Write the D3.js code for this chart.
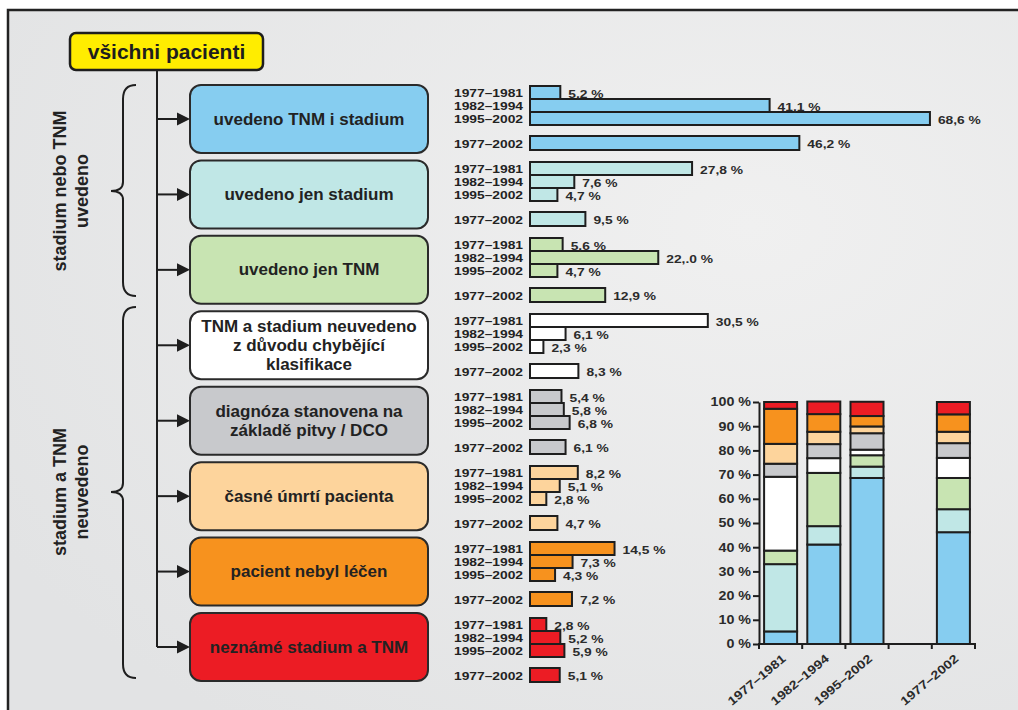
<!DOCTYPE html>
<html>
<head>
<meta charset="utf-8">
<script src="https://cdn.jsdelivr.net/npm/d3@7/dist/d3.min.js"></script>
<style>
  html, body { margin: 0; padding: 0; background: #fff; }
  svg { display: block; font-family: "Liberation Sans", Arial, sans-serif; }
</style>
</head>
<body>
<svg id="chart" width="1018" height="710"></svg>
<script>
// Categories of staging information (box text, one entry per line)
const categories = [
  ["uvedeno TNM i stadium"],
  ["uvedeno jen stadium"],
  ["uvedeno jen TNM"],
  ["TNM a stadium neuvedeno", "z důvodu chybějící", "klasifikace"],
  ["diagnóza stanovena na", "základě pitvy / DCO"],
  ["časné úmrtí pacienta"],
  ["pacient nebyl léčen"],
  ["neznámé stadium a TNM"]
];
const colors = ["#86cdf0", "#c0e7e6", "#c8e4b2", "#ffffff", "#c8c9cc", "#fdd49c", "#f7921e", "#ec1c24"];

const periods = ["1977–1981", "1982–1994", "1995–2002"];
const overallPeriod = "1977–2002";

// Share of patients (%) per category
const share1977_1981 = [5.2, 27.8, 5.6, 30.5, 5.4, 8.2, 14.5, 2.8];
const share1982_1994 = [41.1, 7.6, 22.0, 6.1, 5.8, 5.1, 7.3, 5.2];
const share1995_2002 = [68.6, 4.7, 4.7, 2.3, 6.8, 2.8, 4.3, 5.9];
const share1977_2002 = [46.2, 9.5, 12.9, 8.3, 6.1, 4.7, 7.2, 5.1];

// Value labels as printed
const labels1977_1981 = ["5,2 %", "27,8 %", "5,6 %", "30,5 %", "5,4 %", "8,2 %", "14,5 %", "2,8 %"];
const labels1982_1994 = ["41,1 %", "7,6 %", "22,.0 %", "6,1 %", "5,8 %", "5,1 %", "7,3 %", "5,2 %"];
const labels1995_2002 = ["68,6 %", "4,7 %", "4,7 %", "2,3 %", "6,8 %", "2,8 %", "4,3 %", "5,9 %"];
const labels1977_2002 = ["46,2 %", "9,5 %", "12,9 %", "8,3 %", "6,1 %", "4,7 %", "7,2 %", "5,1 %"];

const yTicks = [0, 10, 20, 30, 40, 50, 60, 70, 80, 90, 100];
const groupTitles = [["stadium nebo TNM", "uvedeno"], ["stadium a TNM", "neuvedeno"]];
const rootTitle = "všichni pacienti";

const svg = d3.select("#chart");
const ink = "#1e1e1e";
const smallFont = 11.6;     // small bold labels
const wide = 1.19;          // horizontal stretch of the small labels

// ---------- panel background ----------
const defs = svg.append("defs");
const grad = defs.append("radialGradient").attr("id", "bg")
  .attr("cx", "72%").attr("cy", "30%").attr("r", "85%");
grad.append("stop").attr("offset", "0%").attr("stop-color", "#f0f0f0");
grad.append("stop").attr("offset", "100%").attr("stop-color", "#e2e3e4");

svg.append("rect").attr("x", 0).attr("y", 0).attr("width", 1018).attr("height", 710).attr("fill", "#fff");
svg.append("rect").attr("x", 8).attr("y", 10).attr("width", 1030).attr("height", 720)
  .attr("fill", "url(#bg)").attr("stroke", "#222").attr("stroke-width", 2.5);

// ---------- flow diagram ----------
const boxTop = d3.scaleLinear().domain([0, 7]).range([85, 613]);
const boxX = 190, boxW = 238, boxH = 68;
const trunkX = 157;

// root box
svg.append("rect").attr("x", 70).attr("y", 33).attr("width", 193).attr("height", 37)
  .attr("rx", 6).attr("fill", "#ffed00").attr("stroke", ink).attr("stroke-width", 2.5);
svg.append("text").attr("x", 166.5).attr("y", 51).attr("text-anchor", "middle")
  .attr("dominant-baseline", "central").attr("font-size", 21).attr("font-weight", "bold")
  .attr("fill", ink).text(rootTitle);

// trunk
svg.append("line").attr("x1", trunkX).attr("x2", trunkX).attr("y1", 70)
  .attr("y2", boxTop(7) + boxH / 2).attr("stroke", ink).attr("stroke-width", 2);

const boxes = svg.append("g").selectAll("g").data(categories).join("g");
boxes.append("line")
  .attr("x1", trunkX).attr("x2", boxX - 10)
  .attr("y1", (d, i) => boxTop(i) + boxH / 2).attr("y2", (d, i) => boxTop(i) + boxH / 2)
  .attr("stroke", ink).attr("stroke-width", 2);
boxes.append("path")
  .attr("d", (d, i) => {
    const cy = boxTop(i) + boxH / 2;
    return `M${boxX - 13},${cy - 6.5} L${boxX},${cy} L${boxX - 13},${cy + 6.5} Z`;
  })
  .attr("fill", ink);
boxes.append("rect")
  .attr("x", boxX).attr("y", (d, i) => boxTop(i)).attr("width", boxW).attr("height", boxH)
  .attr("rx", 11).attr("fill", (d, i) => colors[i]).attr("stroke", "#2a2a2a").attr("stroke-width", 2);
boxes.append("text")
  .attr("text-anchor", "middle").attr("font-size", 17).attr("font-weight", "bold").attr("fill", "#222")
  .each(function (lines, i) {
    const cy = boxTop(i) + boxH / 2;
    const lh = 19;
    d3.select(this).selectAll("tspan").data(lines).join("tspan")
      .attr("x", boxX + boxW / 2)
      .attr("y", (l, j) => cy + (j - (lines.length - 1) / 2) * lh)
      .attr("dominant-baseline", "central")
      .text(l => l);
  });

// braces with group titles
function bracePath(y0, y1, ym) {
  const xe = 136, xl = 123, xt = 111, r = 14;
  return `M${xe},${y0} Q${xl},${y0} ${xl},${y0 + r} L${xl},${ym - 9} Q${xl},${ym} ${xt},${ym}` +
         ` Q${xl},${ym} ${xl},${ym + 9} L${xl},${y1 - r} Q${xl},${y1} ${xe},${y1}`;
}
const braces = [
  { y0: 85, y1: 296, ym: 191 },
  { y0: 307, y1: 678, ym: 492 }
];
braces.forEach((b, k) => {
  svg.append("path").attr("d", bracePath(b.y0, b.y1, b.ym))
    .attr("fill", "none").attr("stroke", ink).attr("stroke-width", 2);
  const t = svg.append("text").attr("transform", `translate(71,${b.ym}) rotate(-90)`)
    .attr("text-anchor", "middle").attr("font-size", 18).attr("font-weight", "bold").attr("fill", "#222");
  groupTitles[k].forEach((line, j) => {
    t.append("tspan").attr("x", 0).attr("y", (j - 0.5) * 22).attr("dominant-baseline", "central").text(line);
  });
});

// ---------- horizontal bars per category ----------
const x = d3.scaleLinear().domain([0, 100]).range([530, 530 + 583]);
const groupTop = d3.scaleLinear().domain([0, 7]).range([86, 618]);
const rowDefs = [
  { period: periods[0], values: share1977_1981, labels: labels1977_1981, dy: 0, h: 13 },
  { period: periods[1], values: share1982_1994, labels: labels1982_1994, dy: 13, h: 13 },
  { period: periods[2], values: share1995_2002, labels: labels1995_2002, dy: 26, h: 13 },
  { period: overallPeriod, values: share1977_2002, labels: labels1977_2002, dy: 50, h: 14 }
];
const barRows = [];
categories.forEach((c, i) => {
  rowDefs.forEach(r => barRows.push({ cat: i, period: r.period, value: r.values[i], label: r.labels[i], y: groupTop(i) + r.dy, h: r.h }));
});
const barG = svg.append("g");
barG.selectAll("rect").data(barRows).join("rect")
  .attr("x", x(0)).attr("y", d => d.y)
  .attr("width", d => x(d.value) - x(0)).attr("height", d => d.h)
  .attr("fill", d => colors[d.cat]).attr("stroke", ink).attr("stroke-width", 2);
barG.selectAll("text.period").data(barRows).join("text").attr("class", "period")
  .attr("transform", d => `translate(523,${d.y + d.h / 2 + 0.5}) scale(${wide},1)`)
  .attr("text-anchor", "end").attr("dominant-baseline", "central")
  .attr("font-size", smallFont).attr("font-weight", "bold").attr("fill", "#222").text(d => d.period);
barG.selectAll("text.value").data(barRows).join("text").attr("class", "value")
  .attr("transform", d => `translate(${x(d.value) + 8},${d.y + d.h / 2 + 1}) scale(${wide},1)`)
  .attr("dominant-baseline", "central")
  .attr("font-size", smallFont).attr("font-weight", "bold").attr("fill", "#2b2b2b").text(d => d.label);

// ---------- stacked 100 % columns ----------
const stackCols = [periods[0], periods[1], periods[2], " ", overallPeriod];
const colShares = {
  [periods[0]]: share1977_1981,
  [periods[1]]: share1982_1994,
  [periods[2]]: share1995_2002,
  [overallPeriod]: share1977_2002
};
const xs = d3.scaleBand().domain(stackCols).range([759, 975]).paddingInner(0.236).paddingOuter(0.118);
const ys = d3.scaleLinear().domain([0, 100]).range([644, 402]);

const stackData = Object.keys(colShares).map(k => {
  const o = { col: k };
  colShares[k].forEach((v, i) => { o["c" + i] = v; });
  return o;
});
const series = d3.stack().keys(categories.map((c, i) => "c" + i))(stackData);

const stackG = svg.append("g");
stackG.selectAll("g").data(series).join("g")
  .attr("fill", (s, i) => colors[i])
  .selectAll("rect").data(s => s).join("rect")
  .attr("x", d => xs(d.data.col)).attr("width", xs.bandwidth())
  .attr("y", d => ys(d[1])).attr("height", d => ys(d[0]) - ys(d[1]))
  .attr("stroke", ink).attr("stroke-width", 2);

// y axis
const yAxis = svg.append("g").attr("transform", `translate(${xs.range()[0]},0)`)
  .call(d3.axisLeft(ys).tickValues(yTicks).tickFormat(d => d + " %").tickSize(6).tickSizeOuter(0).tickPadding(2));
yAxis.select(".domain").attr("stroke", ink).attr("stroke-width", 2);
yAxis.selectAll(".tick line").attr("stroke", ink).attr("stroke-width", 2);
yAxis.selectAll(".tick text")
  .attr("x", null).attr("transform", `translate(-8,0) scale(${wide},1)`)
  .attr("font-size", smallFont + 0.4).attr("font-weight", "bold").attr("fill", "#2b2b2b")
  .attr("font-family", "Liberation Sans, Arial, sans-serif");

// x axis with ticks on band boundaries
const xAxisG = svg.append("g");
xAxisG.append("line").attr("x1", xs.range()[0]).attr("x2", xs.range()[1])
  .attr("y1", ys(0)).attr("y2", ys(0)).attr("stroke", ink).attr("stroke-width", 2);
const boundaries = d3.range(stackCols.length + 1).map(i => xs.range()[0] + i * xs.step());
xAxisG.selectAll("line.tk").data(boundaries).join("line").attr("class", "tk")
  .attr("x1", d => d).attr("x2", d => d).attr("y1", ys(0) - 1).attr("y2", ys(0) + 5)
  .attr("stroke", ink).attr("stroke-width", 2);
xAxisG.selectAll("text").data(stackCols.filter(c => c.trim() !== "")).join("text")
  .attr("transform", d => `translate(${xs(d) + xs.bandwidth() / 2 + 6},${ys(0) + 16}) rotate(-40) scale(${wide},1)`)
  .attr("text-anchor", "end").attr("font-size", smallFont + 0.4).attr("font-weight", "bold").attr("fill", "#2b2b2b")
  .text(d => d);
</script>
</body>
</html>
